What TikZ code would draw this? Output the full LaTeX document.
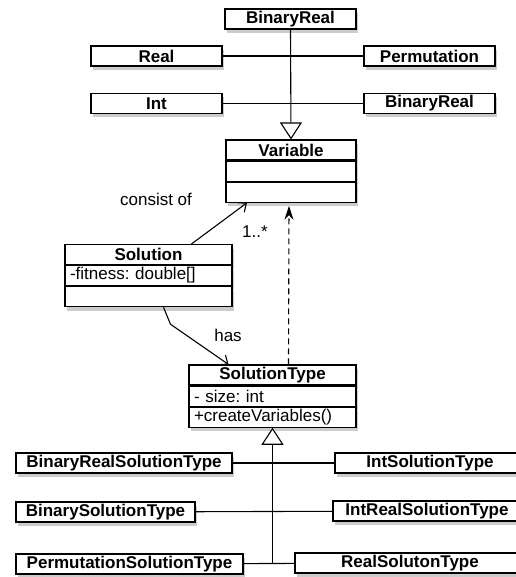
\documentclass[tikz,border=0pt]{standalone}
\usepackage{fontspec}
\setmainfont{Liberation Sans}
\usetikzlibrary{positioning,shadows,arrows.meta}

\begin{document}
\begin{tikzpicture}[x=1pt, y=-1pt,
  every node/.style = {font=\fontsize{17}{20}\selectfont\frenchspacing},
  boxshadow/.style = {drop shadow={opacity=0.4, shadow xshift=2pt, shadow yshift=-4pt}},
  cls/.style = {draw, fill=white, boxshadow, line width=1.1pt, inner sep=0pt,
    minimum width=#1, minimum height=20pt,
    font=\fontsize{17}{20}\selectfont\bfseries},
  compart/.style = {draw, fill=white, boxshadow, line width=1.1pt, align=left,
    inner xsep=5pt, inner ysep=0pt, text width=157pt, minimum height=20pt},
  link/.style = {line width=1.1pt},
  isa/.style = {link, -{Triangle[open, length=17pt, width=22pt, fill=white]}},
  uses/.style = {link, -{Straight Barb[length=7pt, width=12pt]}}]
  \useasboundingbox (0,0) rectangle (515,577);

  % variable types
  \node[cls=131pt] (binreal) at (290.5,19) {BinaryReal};
  \node[cls=131pt] (real) at (156.5,56) {Real};
  \node[cls=131pt] (perm) at (429.5,56) {Permutation};
  \node[cls=131pt] (int) at (156.5,103.5) {Int};
  \node[cls=131pt] (binreal2) at (429.5,103.5) {BinaryReal};

  % Variable
  \node[cls=130pt] (var) at (291,150) {Variable};
  \node[cls=130pt, below=0pt of var] (var2) {};
  \node[cls=130pt, below=0pt of var2] (var3) {};

  % Solution
  \node[cls=167pt] (sol) at (148.5,254.5) {Solution};
  \node[compart, below=0pt of sol] (sol2) {-fitness: double[]};
  \node[cls=167pt, below=0pt of sol2] (sol3) {};

  % SolutionType
  \node[cls=167pt] (st) at (272.5,375) {SolutionType};
  \node[compart, below=0pt of st] (st2) {- size: int};
  \node[compart, below=0pt of st2] (st3) {+createVariables()};

  % solution types
  \node[cls=216pt] (brst) at (124,463) {BinaryRealSolutionType};
  \node[cls=190pt] (intst) at (430,463) {IntSolutionType};
  \node[cls=179pt] (bst) at (105.5,512) {BinarySolutionType};
  \node[cls=188pt] (irst) at (427,511) {IntRealSolutionType};
  \node[cls=227pt] (pst) at (129.5,564) {PermutationSolutionType};
  \node[cls=230pt] (rst) at (410,563) {RealSolutonType};

  % labels
  \node (consist) at (156,199) {consist of};
  \node (mult) at (255,232) {1..*};
  \node (has) at (228,335) {has};

  % inheritance
  \draw[link] (real) -- (perm);
  \draw[link] (int) -- (binreal2);
  \draw[isa] (binreal.south) -- (var.north);
  \coordinate (fork) at (st3.south |- pst.east);
  \draw[link] (brst) -- (intst);
  \draw[link] (bst) -- (irst);
  \draw[link] (pst) -- (rst);
  \draw[isa] (fork) -- (st3.south);

  % associations
  \draw[uses] ([xshift=43pt]sol.north) -- ([xshift=-44pt]var3.south);
  \draw[uses] ([xshift=15pt]sol3.south) -- ++(7,17) -- ([xshift=-44pt]st.north);
  \draw[link, dash pattern=on 6pt off 4pt, shorten >=3pt,
    -{Stealth[length=14pt, width=9pt]}] ([xshift=16pt]st.north) -- ([xshift=-2pt]var3.south);
\end{tikzpicture}
\end{document}
